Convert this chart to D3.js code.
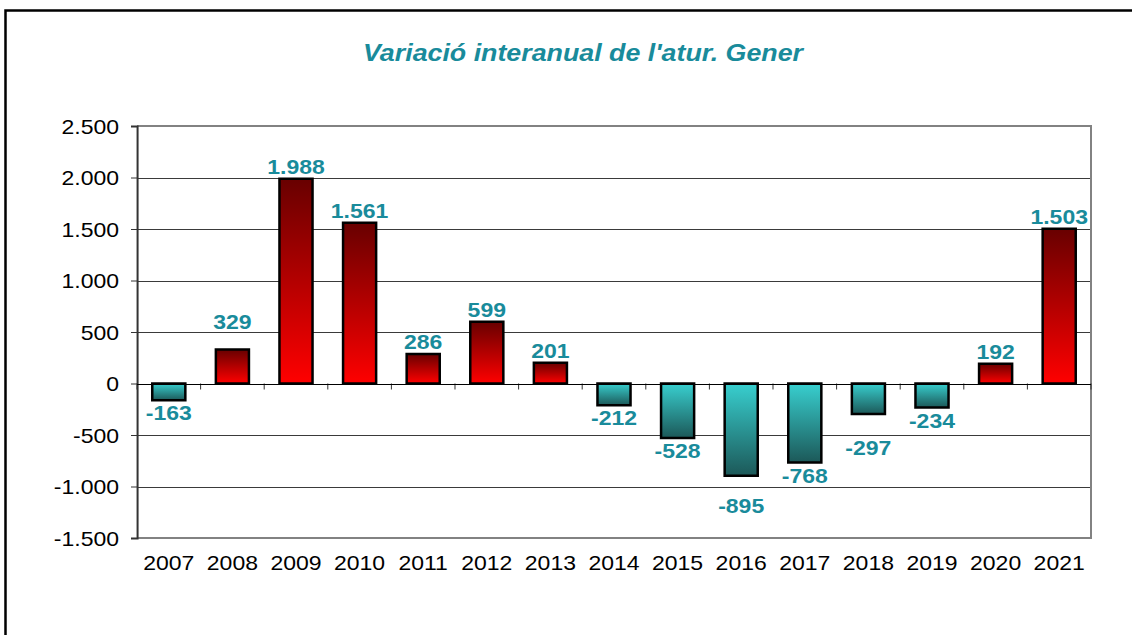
<!DOCTYPE html>
<html>
<head>
<meta charset="utf-8">
<script src="https://cdn.jsdelivr.net/npm/d3@7"></script>
<style>
  body { margin: 0; background: #fff; }
  svg { display: block; }
</style>
</head>
<body>
<div id="chart"></div>
<script>
(function () {
  "use strict";

  // data
  const years = ["2007", "2008", "2009", "2010", "2011", "2012", "2013", "2014",
    "2015", "2016", "2017", "2018", "2019", "2020", "2021"];
  const values = [-163, 329, 1988, 1561, 286, 599, 201, -212, -528, -895, -768,
    -297, -234, 192, 1503];
  const yTicks = [-1500, -1000, -500, 0, 500, 1000, 1500, 2000, 2500];
  const title = "Variació interanual de l'atur. Gener";

  // a few labels sit further from their bar in the original
  const labelNudge = { "2008": 16, "2016": 17, "2018": 21 };

  const W = 1132, H = 635;
  // the original is stretched sideways, so draw narrow and stretch the svg
  const stretch = 1.15;
  const vw = W / stretch;
  const margin = { left: 137 / stretch, right: vw - 1091 / stretch, top: 126, bottom: H - 538 };

  const teal = "#198b9b";
  const font = "Arial, 'Liberation Sans', sans-serif";

  const loc = d3.formatLocale({ decimal: ",", thousands: ".", grouping: [3], currency: ["", ""], minus: "-" });
  const fmt = loc.format(",d");

  const svg = d3.select("#chart")
    .append("svg")
    .attr("width", W)
    .attr("height", H)
    .attr("viewBox", `0 0 ${vw} ${H}`)
    .attr("preserveAspectRatio", "none");

  const defs = svg.append("defs");
  const gradPos = defs.append("linearGradient").attr("id", "gPos")
    .attr("x1", 0).attr("y1", 0).attr("x2", 0).attr("y2", 1);
  gradPos.append("stop").attr("offset", "0%").attr("stop-color", "#680000");
  gradPos.append("stop").attr("offset", "100%").attr("stop-color", "#ff0000");
  const gradNeg = defs.append("linearGradient").attr("id", "gNeg")
    .attr("x1", 0).attr("y1", 0).attr("x2", 0).attr("y2", 1);
  gradNeg.append("stop").attr("offset", "0%").attr("stop-color", "#38cfcf");
  gradNeg.append("stop").attr("offset", "100%").attr("stop-color", "#1c5858");

  // outer frame (runs off the picture on the right and bottom)
  svg.append("rect")
    .attr("x", 5.5 / stretch).attr("y", 10.5)
    .attr("width", vw + 20).attr("height", H + 20)
    .attr("fill", "none").attr("stroke", "#000").attr("stroke-width", 2.5)
    .attr("vector-effect", "non-scaling-stroke");

  svg.append("text")
    .attr("x", 583 / stretch).attr("y", 61)
    .attr("text-anchor", "middle")
    .attr("font-family", font).attr("font-size", 23.3)
    .attr("font-weight", "bold").attr("font-style", "italic")
    .attr("fill", teal)
    .text(title);

  const x = d3.scaleBand()
    .domain(years)
    .range([margin.left, vw - margin.right])
    .paddingInner(0.48).paddingOuter(0.24);

  const y = d3.scaleLinear()
    .domain([-1500, 2500])
    .range([H - margin.bottom, margin.top]);

  const left = margin.left, right = vw - margin.right;

  // gridlines
  svg.append("g")
    .selectAll("line")
    .data(yTicks.filter((d) => d !== 0 && d !== -1500 && d !== 2500))
    .join("line")
    .attr("x1", left).attr("x2", right)
    .attr("y1", (d) => Math.round(y(d)) + 0.5).attr("y2", (d) => Math.round(y(d)) + 0.5)
    .attr("stroke", "#3a3a3a").attr("stroke-width", 1)
    .attr("vector-effect", "non-scaling-stroke");

  // plot border (grey)
  svg.append("path")
    .attr("d", `M${left},${y(2500)}H${right}V${y(-1500)}H${left}`)
    .attr("fill", "none").attr("stroke", "#828282").attr("stroke-width", 2)
    .attr("vector-effect", "non-scaling-stroke");

  // y axis
  const yAxis = svg.append("g")
    .attr("transform", `translate(${left},0)`)
    .call(d3.axisLeft(y).tickValues(yTicks).tickFormat(fmt).tickSize(6 / stretch).tickPadding(12 / stretch));
  yAxis.select(".domain").attr("stroke", "#333").attr("stroke-width", 2)
    .attr("vector-effect", "non-scaling-stroke");
  yAxis.selectAll(".tick line").attr("stroke", "#333").attr("vector-effect", "non-scaling-stroke");
  yAxis.selectAll("text")
    .attr("font-family", font).attr("font-size", 20).attr("fill", "#000")
    .attr("dy", "0.36em");

  // bars
  svg.append("g")
    .selectAll("rect")
    .data(values)
    .join("rect")
    .attr("x", (d, i) => x(years[i]))
    .attr("width", x.bandwidth())
    .attr("y", (d) => y(Math.max(0, d)))
    .attr("height", (d) => Math.abs(y(d) - y(0)))
    .attr("fill", (d) => (d >= 0 ? "url(#gPos)" : "url(#gNeg)"))
    .attr("stroke", "#000").attr("stroke-width", 2.5)
    .attr("vector-effect", "non-scaling-stroke");

  // zero axis with category ticks
  const bounds = d3.range(years.length + 1).map((i) => left + i * (right - left) / years.length);
  svg.append("g")
    .selectAll("line")
    .data(bounds)
    .join("line")
    .attr("x1", (d) => d).attr("x2", (d) => d)
    .attr("y1", y(0)).attr("y2", y(0) + 6)
    .attr("stroke", "#333").attr("stroke-width", 1)
    .attr("vector-effect", "non-scaling-stroke");
  svg.append("line")
    .attr("x1", left).attr("x2", right)
    .attr("y1", Math.round(y(0)) + 0.5).attr("y2", Math.round(y(0)) + 0.5)
    .attr("stroke", "#000").attr("stroke-width", 1.2)
    .attr("vector-effect", "non-scaling-stroke");

  // category labels
  svg.append("g")
    .selectAll("text")
    .data(years)
    .join("text")
    .attr("x", (d) => x(d) + x.bandwidth() / 2)
    .attr("y", 570)
    .attr("text-anchor", "middle")
    .attr("font-family", font).attr("font-size", 20).attr("fill", "#000")
    .text((d) => d);

  // value labels
  svg.append("g")
    .selectAll("text")
    .data(values)
    .join("text")
    .attr("x", (d, i) => x(years[i]) + x.bandwidth() / 2)
    .attr("y", (d, i) => {
      const n = labelNudge[years[i]] || 0;
      return d >= 0 ? y(d) - 5 - n : y(d) + 20 + n;
    })
    .attr("text-anchor", "middle")
    .attr("font-family", font).attr("font-size", 20).attr("font-weight", "bold")
    .attr("fill", teal)
    .text((d) => fmt(d));
})();
</script>
</body>
</html>
